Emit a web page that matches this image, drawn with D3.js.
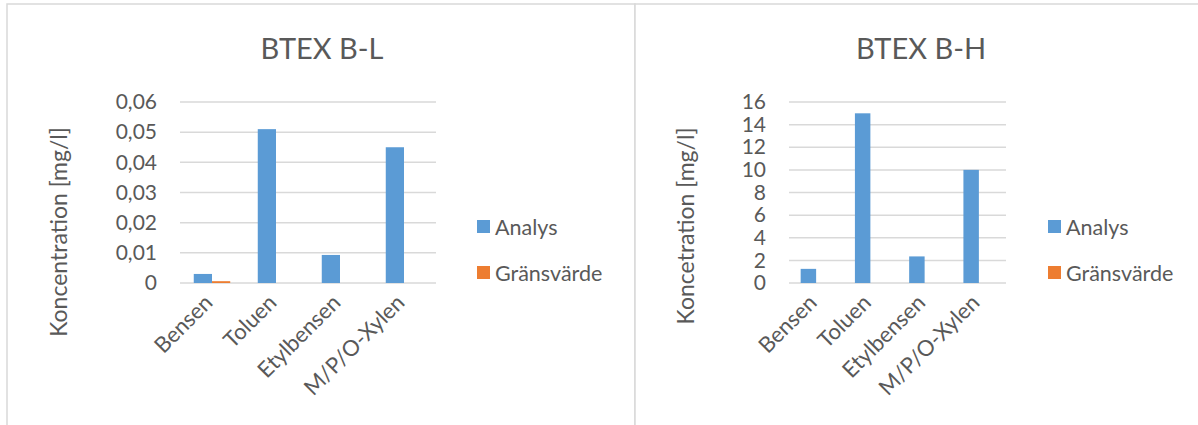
<!DOCTYPE html>
<html>
<head>
<meta charset="utf-8">
<script src="https://cdn.jsdelivr.net/npm/d3@7"></script>
<style>
  body { margin: 0; background: #fff; }
  svg { display: block; font-family: Lato, "Open Sans", sans-serif; }
</style>
</head>
<body>
<svg id="chart" width="1198" height="425"></svg>
<script>
const categories = ['Bensen', 'Toluen', 'Etylbensen', 'M/P/O-Xylen'];
const seriesNames = ['Analys', 'Gränsvärde'];

// BTEX B-L
const analysBL = [0.003, 0.051, 0.0093, 0.045];
const gransBL = [0.0006, null, null, null];
const ticksBL = [0, 0.01, 0.02, 0.03, 0.04, 0.05, 0.06];

// BTEX B-H
const analysBH = [1.25, 15, 2.35, 10];
const gransBH = [null, null, null, null];
const ticksBH = [0, 2, 4, 6, 8, 10, 12, 14, 16];

const colors = ['#5B9BD5', '#ED7D31'];
const textColor = '#595959';
const gridColor = '#D9D9D9';

const svg = d3.select('#chart');

const svFormat = d3.formatLocale({decimal: ',', thousands: ' ', grouping: [3], currency: ['', ' kr']});

function drawChart({panel, title, yTitle, analys, grans, ticks, fmt}) {
  const g = svg.append('g');

  // chart area border
  g.append('rect')
    .attr('x', panel.x).attr('y', panel.y)
    .attr('width', panel.w).attr('height', panel.h)
    .attr('fill', '#fff')
    .attr('stroke', gridColor)
    .attr('stroke-width', 1.5);

  g.append('text')
    .attr('x', panel.titleX).attr('y', 59)
    .attr('text-anchor', 'middle')
    .attr('fill', textColor)
    .attr('font-size', 29)
    .text(title);

  const x = d3.scaleBand()
    .domain(categories)
    .range([panel.left, panel.right])
    .paddingInner(0.43)
    .paddingOuter(0.215);

  const xs = d3.scaleBand()
    .domain(seriesNames)
    .range([0, x.bandwidth()]);

  const y = d3.scaleLinear()
    .domain([ticks[0], ticks[ticks.length - 1]])
    .range([283, 102]);

  // gridlines (the 0 line doubles as x axis)
  g.append('g')
    .selectAll('line')
    .data(ticks)
    .join('line')
    .attr('x1', panel.left).attr('x2', panel.right)
    .attr('y1', d => y(d)).attr('y2', d => y(d))
    .attr('stroke', gridColor)
    .attr('stroke-width', 1.5);

  // y axis labels
  const yAxis = g.append('g')
    .attr('transform', `translate(${panel.left},0)`)
    .call(d3.axisLeft(y).tickValues(ticks).tickFormat(fmt).tickSize(0).tickPadding(panel.left - panel.tickRight));
  yAxis.select('.domain').remove();
  yAxis.selectAll('text')
    .attr('fill', textColor)
    .attr('font-size', 21)
    .attr('font-family', 'Lato, sans-serif');

  g.append('text')
    .attr('transform', `translate(${panel.yTitleX},${panel.yTitleY}) rotate(-90)`)
    .attr('text-anchor', 'middle')
    .attr('dy', '0.35em')
    .attr('fill', textColor)
    .attr('font-size', 23)
    .text(yTitle);

  // bars
  const rows = categories.map((c, i) => ({cat: c, values: [analys[i], grans[i]]}));
  g.append('g')
    .selectAll('g')
    .data(rows)
    .join('g')
    .attr('transform', d => `translate(${x(d.cat)},0)`)
    .selectAll('rect')
    .data(d => d.values.map((v, j) => ({name: seriesNames[j], value: v, idx: j})).filter(d => d.value != null))
    .join('rect')
    .attr('x', d => xs(d.name))
    .attr('y', d => y(d.value))
    .attr('width', xs.bandwidth())
    .attr('height', d => y(0) - y(d.value))
    .attr('fill', d => colors[d.idx]);

  // category labels, rotated
  g.append('g')
    .selectAll('text')
    .data(categories)
    .join('text')
    .attr('transform', d => `translate(${x(d) + x.bandwidth() / 2 + 2},${y(0) + 21}) rotate(-45)`)
    .attr('text-anchor', 'end')
    .attr('fill', textColor)
    .attr('font-size', 22)
    .text(d => d);

  // legend
  const legend = g.append('g')
    .selectAll('g')
    .data(seriesNames)
    .join('g')
    .attr('transform', (d, i) => `translate(${panel.legendX},${220 + i * 46})`);
  legend.append('rect')
    .attr('width', 13).attr('height', 13)
    .attr('fill', (d, i) => colors[i]);
  legend.append('text')
    .attr('x', 18).attr('y', 7)
    .attr('dy', '0.35em')
    .attr('fill', textColor)
    .attr('font-size', 21.5)
    .text(d => d);
}

drawChart({
  panel: {x: 7, y: 4, w: 628, h: 440, titleX: 322, left: 180, right: 436, tickRight: 157,
    yTitleX: 59, yTitleY: 232, legendX: 477},
  title: 'BTEX B-L',
  yTitle: 'Koncentration [mg/l]',
  analys: analysBL,
  grans: gransBL,
  ticks: ticksBL,
  fmt: d => d === 0 ? '0' : svFormat.format('.2f')(d)
});

drawChart({
  panel: {x: 635, y: 4, w: 600, h: 440, titleX: 921, left: 789, right: 1006, tickRight: 766,
    yTitleX: 686, yTitleY: 226, legendX: 1048},
  title: 'BTEX B-H',
  yTitle: 'Koncetration [mg/l]',
  analys: analysBH,
  grans: gransBH,
  ticks: ticksBH,
  fmt: d => String(d)
});
</script>
</body>
</html>
